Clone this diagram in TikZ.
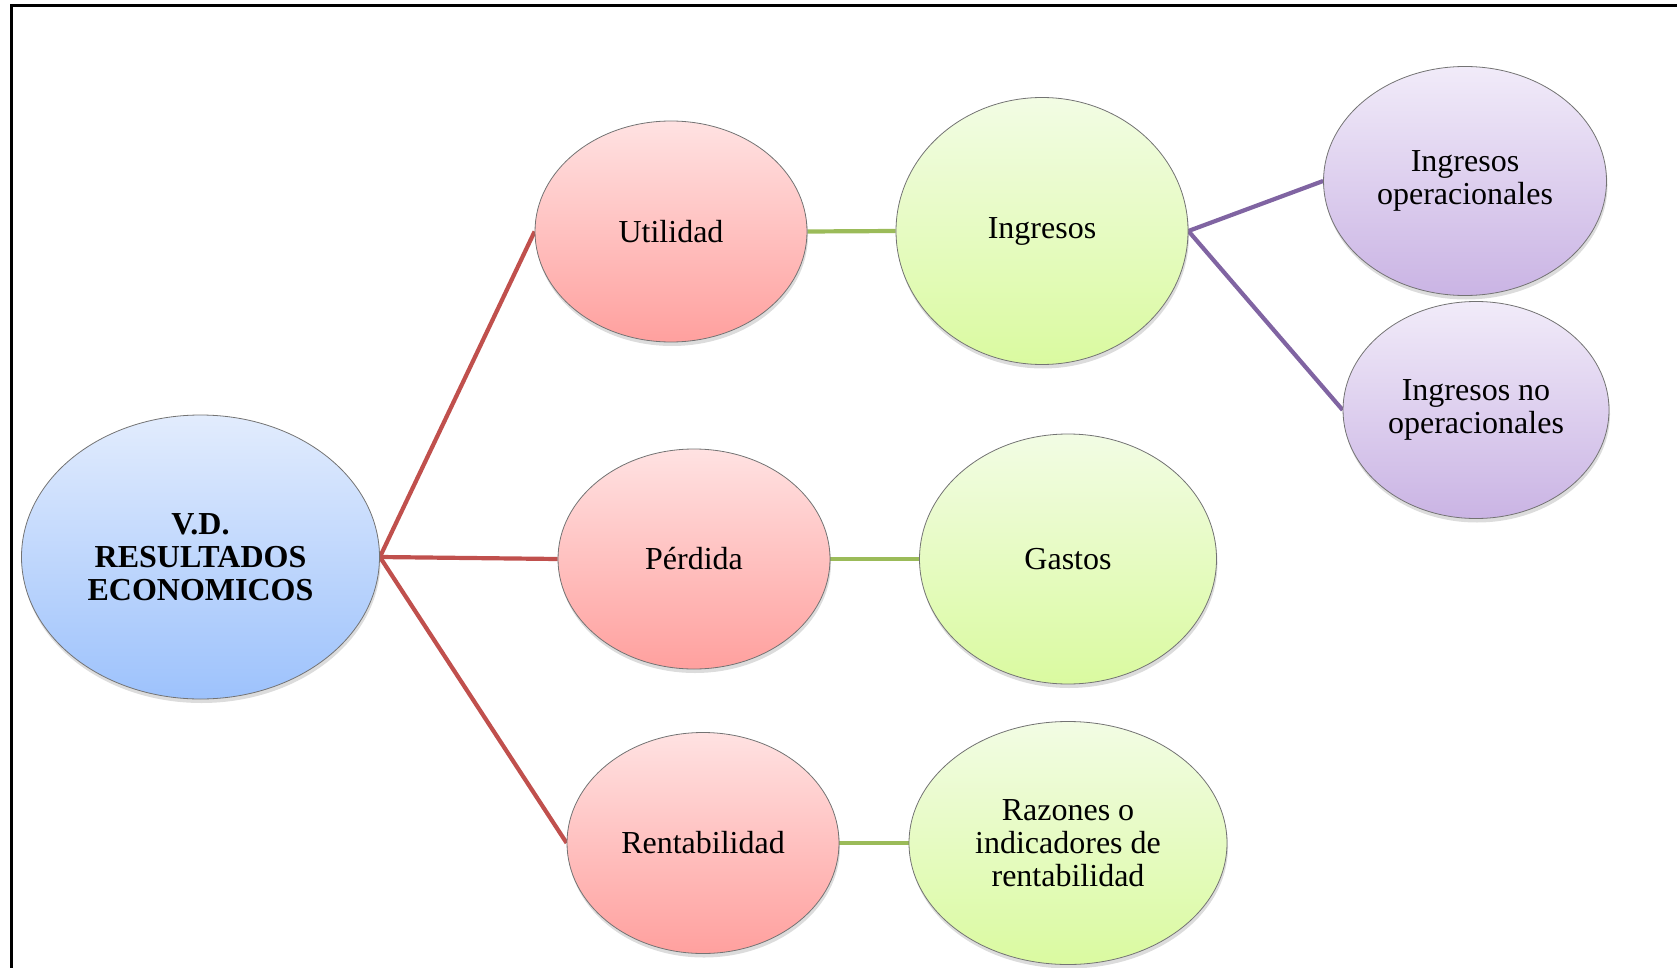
\documentclass[tikz,border=0pt]{standalone}
\usepackage{fontspec}
\setmainfont{Liberation Serif}
\usetikzlibrary{shapes.geometric,shadows,backgrounds}

\definecolor{linkred}{RGB}{192,80,77}
\definecolor{linkgreen}{RGB}{155,187,89}
\definecolor{linkpurple}{RGB}{128,100,162}
\definecolor{blueTop}{RGB}{226,236,253}
\definecolor{blueBot}{RGB}{157,194,252}
\definecolor{redTop}{RGB}{255,226,226}
\definecolor{redBot}{RGB}{255,160,158}
\definecolor{greenTop}{RGB}{242,252,228}
\definecolor{greenBot}{RGB}{218,250,160}
\definecolor{purpTop}{RGB}{241,235,249}
\definecolor{purpBot}{RGB}{202,180,228}

\tikzset{
  bubble/.style={ellipse, draw=black!55, line width=0.8pt, inner sep=0pt,
    align=center, font=\fontsize{32}{33}\selectfont,
    drop shadow={opacity=0.28, shadow xshift=1pt, shadow yshift=-4pt}},
  bluebub/.style={bubble, top color=blueTop, bottom color=blueBot},
  redbub/.style={bubble, top color=redTop, bottom color=redBot},
  greenbub/.style={bubble, top color=greenTop, bottom color=greenBot},
  purpbub/.style={bubble, top color=purpTop, bottom color=purpBot},
  redlink/.style={draw=linkred, line width=4.2pt},
  greenlink/.style={draw=linkgreen, line width=4.2pt},
  purplink/.style={draw=linkpurple, line width=4.2pt},
  frameline/.style={draw=black, line width=3pt}
}

\begin{document}
\begin{tikzpicture}[x=1pt, y=-1pt]
\useasboundingbox (0,0) rectangle (1677,968);

% page frame (top and left edges)
\draw[frameline] (11,968) -- (11,6) -- (1677,6);

% root
\node[bluebub, minimum width=358pt, minimum height=284pt] (root) at (200.5,557)
  {\bfseries V.D.\\ \bfseries RESULTADOS\\ \bfseries ECONOMICOS};

% first level
\node[redbub, minimum width=272pt, minimum height=221pt] (util) at (671,231.5) {Utilidad};
\node[redbub, minimum width=272pt, minimum height=220pt] (perd) at (694,559) {Pérdida};
\node[redbub, minimum width=272pt, minimum height=221pt] (rent) at (703,843) {Rentabilidad};

% second level
\node[greenbub, minimum width=292pt, minimum height=267pt] (ingr) at (1042,231) {Ingresos\vphantom{d}};
\node[greenbub, minimum width=297pt, minimum height=250pt] (gast) at (1068,559) {Gastos};
\node[greenbub, minimum width=318pt, minimum height=243pt] (razo) at (1068,843)
  {Razones o\\ indicadores de\\ rentabilidad};

% third level
\node[purpbub, minimum width=283pt, minimum height=229pt] (ingop) at (1465,181)
  {Ingresos\\ operacionales};
\node[purpbub, minimum width=266pt, minimum height=217pt] (ingno) at (1476,410)
  {Ingresos no\\ operacionales};

% connectors
\begin{pgfonlayer}{background}
\draw[redlink] (root.east) -- (util.west);
\draw[redlink] (root.east) -- (perd.west);
\draw[redlink] (root.east) -- (rent.west);
\draw[greenlink] (util.east) -- (ingr.west);
\draw[greenlink] (perd.east) -- (gast.west);
\draw[greenlink] (rent.east) -- (razo.west);
\draw[purplink] (ingr.east) -- (ingop.west);
\draw[purplink] (ingr.east) -- (ingno.west);
\end{pgfonlayer}
\end{tikzpicture}
\end{document}
